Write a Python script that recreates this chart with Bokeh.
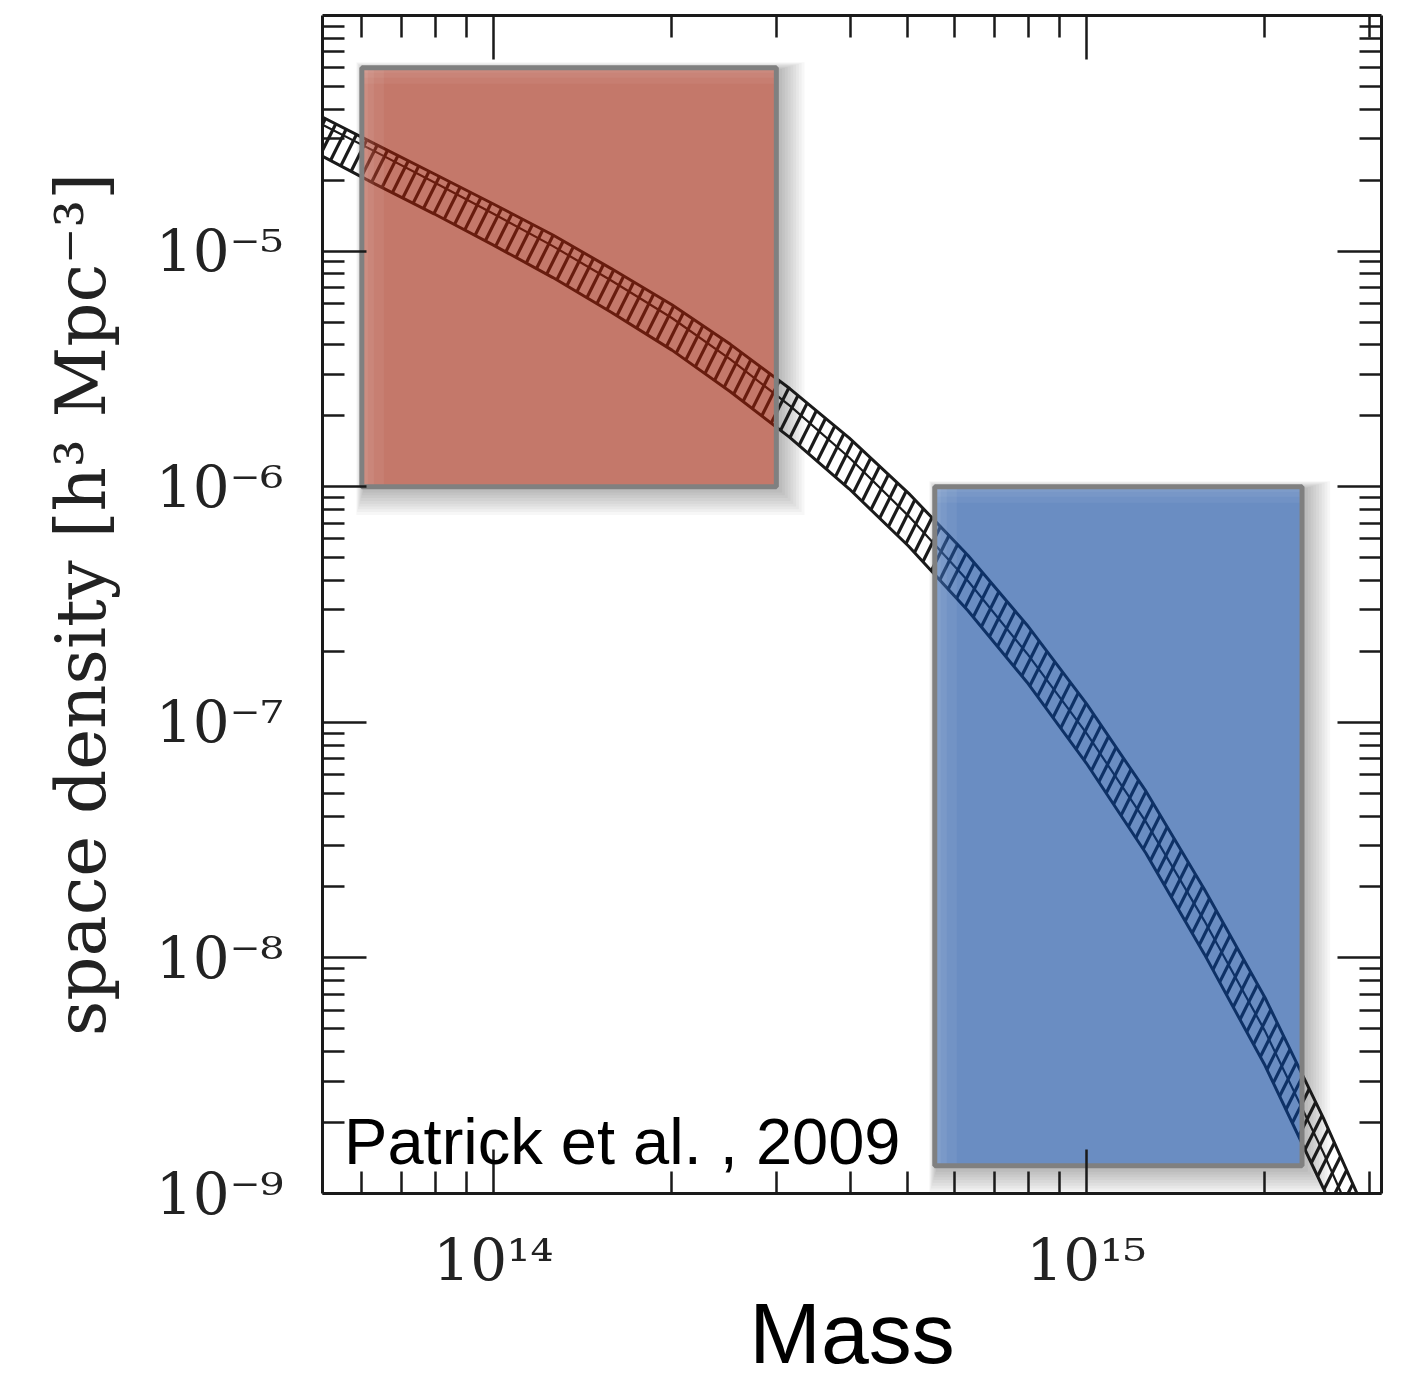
import numpy as np
from bokeh.plotting import figure
from bokeh.models import LogAxis, FixedTicker, Label, Range1d, CustomJSTickFormatter
from bokeh.embed import file_html
from bokeh.resources import INLINE

# ---------------- data ----------------
mass = [5.01e13, 6.31e13, 7.94e13, 1.0e14, 1.26e14, 1.58e14, 2.0e14, 2.51e14, 3.16e14,
        3.98e14, 5.01e14, 6.31e14, 7.94e14, 1.0e15, 1.26e15, 1.58e15, 2.0e15, 2.51e15,
        3.16e15, 3.55e15]
density_upper = [3.84e-5, 2.85e-5, 2.13e-5, 1.585e-5, 1.17e-5, 8.43e-6, 5.92e-6, 4.02e-6,
                 2.61e-6, 1.61e-6, 9.4e-7, 5.12e-7, 2.59e-7, 1.20e-7, 5.1e-8, 1.96e-8,
                 6.79e-9, 2.09e-9, 5.7e-10, 2.83e-10]
density_mid = [3.56e-5, 2.65e-5, 1.96e-5, 1.44e-5, 1.05e-5, 7.5e-6, 5.2e-6, 3.47e-6,
               2.21e-6, 1.33e-6, 7.52e-7, 3.99e-7, 1.96e-7, 9.0e-8, 3.78e-8, 1.44e-8,
               4.9e-9, 1.49e-9, 4.0e-10, 2.0e-10]
density_lower = [2.62e-5, 1.93e-5, 1.44e-5, 1.06e-5, 7.72e-6, 5.5e-6, 3.8e-6, 2.53e-6,
                 1.62e-6, 9.8e-7, 5.6e-7, 2.98e-7, 1.48e-7, 6.7e-8, 2.78e-8, 1.04e-8,
                 3.5e-9, 1.05e-9, 2.8e-10, 1.4e-10]

box_mass_min = [6.0e13, 5.55e14]
box_mass_max = [3.0e14, 2.31e15]
box_density_min = [1.0e-6, 1.31e-9]
box_density_max = [6.0e-5, 1.0e-6]
box_colors = ["#9d1e07", "#074199"]

x_major_ticks = [1e14, 1e15]
x_tick_labels = ["10¹⁴", "10¹⁵"]
x_minor_ticks = [6e13, 7e13, 8e13, 9e13, 2e14, 3e14, 4e14, 5e14, 6e14, 7e14, 8e14,
                 9e14, 2e15, 3e15]
y_major_ticks = [1e-9, 1e-8, 1e-7, 1e-6, 1e-5]
y_tick_labels = ["10⁻⁹", "10⁻⁸", "10⁻⁷", "10⁻⁶", "10⁻⁵"]
y_minor_ticks = [k * 10.0 ** e for e in range(-9, -4) for k in range(2, 10)]

note_text = "Patrick et al. , 2009"
note_mass = 5.6e13
note_density = 1.66e-9

x_min, x_max = 5.15e13, 3.145e15
y_min, y_max = 1e-9, 1e-4

# ---------------- figure ----------------
FW, FH = 1059, 1178
p = figure(x_axis_type="log", y_axis_type="log",
           x_range=Range1d(x_min, x_max), y_range=Range1d(y_min, y_max),
           frame_width=FW, frame_height=FH,
           min_border_left=322, min_border_right=21, min_border_top=15, min_border_bottom=191,
           output_backend="svg", toolbar_location=None)
p.outline_line_color = None
p.xgrid.visible = False
p.ygrid.visible = False
p.background_fill_color = "white"

ppdx = FW / np.log10(x_max / x_min)
ppdy = FH / np.log10(y_max / y_min)


def sx(v, px):
    return np.asarray(v) * 10.0 ** (px / ppdx)


def sy(v, px):
    return np.asarray(v) * 10.0 ** (px / ppdy)


L = np.array(box_mass_min)
R = np.array(box_mass_max)
B = np.array(box_density_min)
T = np.array(box_density_max)

# soft drop shadows (mostly to the right and below)
for i in range(1, 10):
    s = 2.8 * i
    p.quad(left=sx(L, 2 - s * 0.3), right=sx(R, 3 + s), top=sy(T, -2 + s * 0.3),
           bottom=sy(B, -3 - s), fill_color="black", fill_alpha=0.03, line_color=None)

# white underlay so the shadow does not tint the translucent boxes
p.quad(left=L, right=R, top=T, bottom=B, fill_color="white", line_color=None)

# hatched band
p.varea(x=mass, y1=density_lower, y2=density_upper, fill_alpha=0,
        hatch_pattern="/", hatch_color="#1a1a1a", hatch_weight=3.2, hatch_scale=26)
p.line(mass, density_upper, line_color="#1a1a1a", line_width=3)
p.line(mass, density_lower, line_color="#1a1a1a", line_width=3)
p.line(mass, density_mid, line_color="#1a1a1a", line_width=2.2)

# translucent boxes
p.quad(left=L, right=R, top=T, bottom=B, fill_color=box_colors, fill_alpha=0.6,
       line_color=None)
# light edge highlights (left and top)
for w in (6, 12, 22):
    p.quad(left=L, right=sx(L, w), top=T, bottom=B, fill_color="white",
           fill_alpha=0.06, line_color=None)
for w in (5, 10, 16):
    p.quad(left=L, right=R, top=T, bottom=sy(T, -w), fill_color="white",
           fill_alpha=0.05, line_color=None)
p.quad(left=L, right=R, top=T, bottom=B, fill_color=None, line_color="#808080",
       line_width=5)

# annotation
p.add_layout(Label(x=note_mass, y=note_density, text=note_text,
                   text_font="Liberation Sans", text_font_size="65px",
                   text_color="black", text_baseline="middle"))

# ---------------- axes ----------------
AX = "#1a1a1a"


def style(ax, labels=True):
    ax.axis_line_width = 3
    ax.axis_line_color = AX
    ax.major_tick_in = 44
    ax.major_tick_out = 0
    ax.minor_tick_in = 22
    ax.minor_tick_out = 0
    ax.major_tick_line_width = 2.5
    ax.minor_tick_line_width = 2.5
    ax.major_tick_line_color = AX
    ax.minor_tick_line_color = AX
    ax.major_label_text_font = "DejaVu Serif"
    ax.major_label_text_font_size = "58px"
    ax.major_label_text_color = "#222222"
    if not labels:
        ax.formatter = CustomJSTickFormatter(code="return ''")
        ax.major_label_standoff = 0


xa = p.xaxis[0]
xa.ticker = FixedTicker(ticks=x_major_ticks, minor_ticks=x_minor_ticks)
style(xa)
xa.major_label_overrides = dict(zip(x_major_ticks, x_tick_labels))
xa.major_label_standoff = 32
xa.axis_label = "Mass"
xa.axis_label_text_font = "Liberation Sans"
xa.axis_label_text_font_size = "86px"
xa.axis_label_text_font_style = "normal"
xa.axis_label_text_color = "black"
xa.axis_label_standoff = -12

ya = p.yaxis[0]
ya.ticker = FixedTicker(ticks=y_major_ticks, minor_ticks=y_minor_ticks)
style(ya)
ya.major_label_overrides = dict(zip(y_major_ticks, y_tick_labels))
ya.major_label_standoff = 39
ya.axis_label = "space density [h³ Mpc⁻³]"
ya.axis_label_text_font = "DejaVu Serif"
ya.axis_label_text_font_size = "69px"
ya.axis_label_text_font_style = "normal"
ya.axis_label_text_color = "#222222"
ya.axis_label_standoff = 32

top = LogAxis(ticker=FixedTicker(ticks=x_major_ticks, minor_ticks=x_minor_ticks))
style(top, labels=False)
p.add_layout(top, "above")
right = LogAxis(ticker=FixedTicker(ticks=y_major_ticks, minor_ticks=y_minor_ticks))
style(right, labels=False)
p.add_layout(right, "right")

open("out.html", "w").write(file_html(p, INLINE))
